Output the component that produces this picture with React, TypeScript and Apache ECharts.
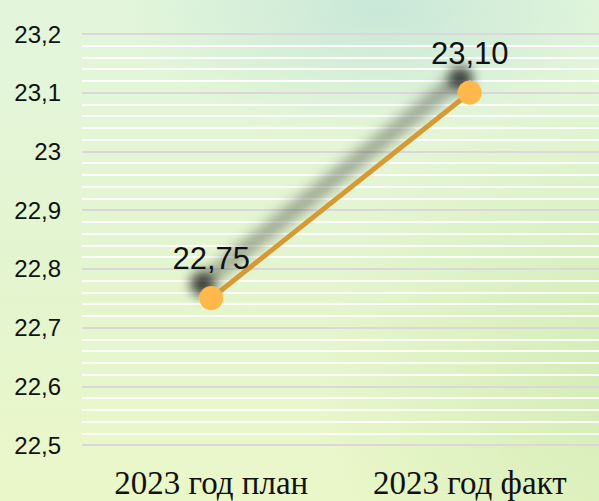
import React, { useEffect, useRef } from "react";
import * as echarts from "echarts";

const categories = ["2023 год план", "2023 год факт"];
const values = [22.75, 23.1];
const yMin = 22.5;
const yMax = 23.2;
const yStep = 0.1;

export default function App() {
  const ref = useRef<HTMLDivElement>(null);
  useEffect(() => {
    if (!ref.current) return;
    const chart = echarts.init(ref.current, null, { renderer: "svg" });
    chart.setOption({
      animation: false,
      backgroundColor: "transparent",
      grid: { left: 82, right: 0, top: 34, bottom: 56 },
      xAxis: {
        type: "category",
        data: categories,
        boundaryGap: true,
        axisLine: { show: false },
        axisTick: { show: false },
        splitLine: { show: false },
        axisLabel: {
          fontFamily: "Liberation Serif, Times New Roman, serif",
          fontSize: 33,
          color: "#111",
          margin: 21,
        },
      },
      yAxis: {
        type: "value",
        min: yMin,
        max: yMax,
        interval: yStep,
        axisLine: { show: false },
        axisTick: { show: false },
        axisLabel: {
          fontFamily: "Liberation Sans, Arial, sans-serif",
          fontSize: 24,
          color: "#111",
          margin: 21,
          formatter: (v: number) => String(Math.round(v * 10) / 10).replace(".", ","),
        },
        splitLine: { show: true, lineStyle: { color: "#dcd6dc", width: 2 } },
        minorTick: { show: false, splitNumber: 5 },
        minorSplitLine: { show: true, lineStyle: { color: "rgba(255,255,255,0.9)", width: 2 } },
      },
      series: [
        {
          type: "line",
          data: values,
          symbol: "circle",
          symbolSize: 24,
          itemStyle: {
            color: "#ffb84a",
            shadowColor: "rgba(0,0,0,0.7)",
            shadowBlur: 12,
            shadowOffsetX: -9,
            shadowOffsetY: -14,
          },
          lineStyle: {
            color: "#d69a35",
            width: 5,
            shadowColor: "rgba(0,0,0,1)",
            shadowBlur: 16,
            shadowOffsetX: -10,
            shadowOffsetY: -14,
          },
          label: {
            show: true,
            position: "top",
            distance: 12,
            fontFamily: "Liberation Sans, Arial, sans-serif",
            fontSize: 31,
            color: "#111",
            formatter: (p: any) => Number(p.value).toFixed(2).replace(".", ","),
          },
          z: 3,
        },
      ],
    });
    return () => chart.dispose();
  }, []);
  return (
    <div
      style={{
        position: "fixed",
        left: 0,
        top: 0,
        width: 599,
        height: 501,
        background:
          "radial-gradient(ellipse 260px 120px at 380px 10px, rgba(198,230,215,0.9), rgba(198,230,215,0) 100%), radial-gradient(ellipse 300px 300px at 620px 380px, rgba(208,234,178,0.8), rgba(208,234,178,0) 100%), linear-gradient(to bottom, #e3f6dc 0%, #e3f5d0 50%, #eaf7c8 100%)",
      }}
    >
      <div ref={ref} style={{ width: 599, height: 501 }} />
    </div>
  );
}
